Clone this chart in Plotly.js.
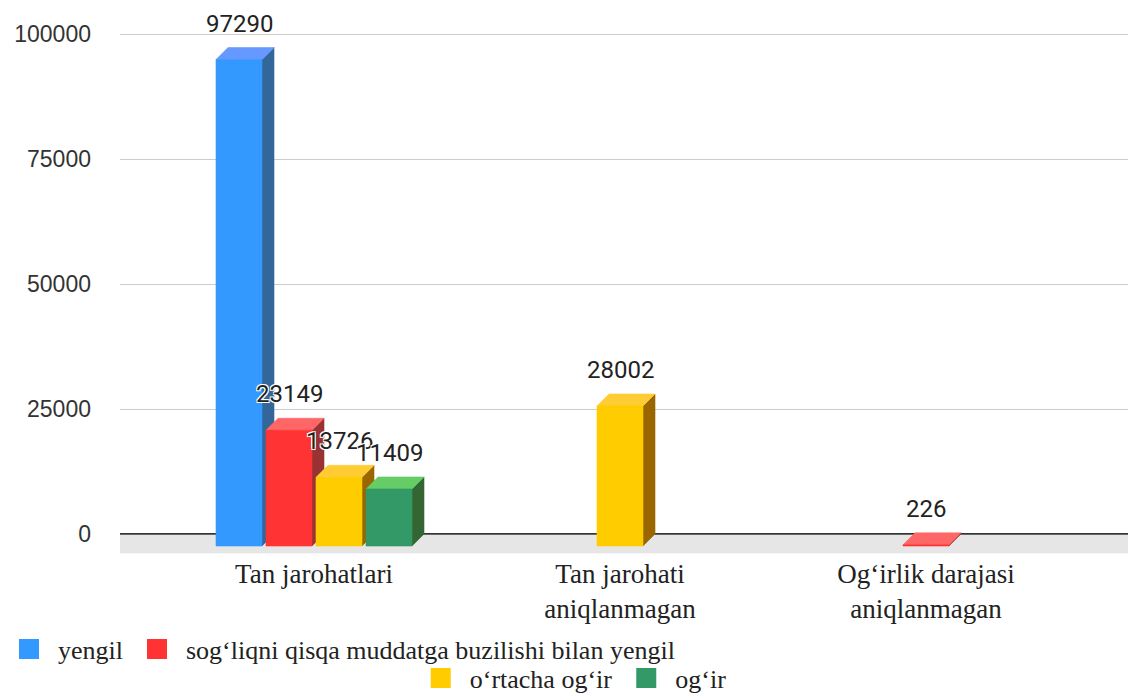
<!DOCTYPE html>
<html><head><meta charset="utf-8">
<script src="https://cdn.plot.ly/plotly-3.0.1.min.js"></script>
<style>html,body{margin:0;padding:0;background:#fff}#chart{width:1128px;height:693px}</style>
</head><body><div id="chart"></div>
<script>
// ---------------- data ----------------
const categories = ['Tan jarohatlari', 'Tan jarohati aniqlanmagan', 'Og‘irlik darajasi aniqlanmagan'];
const categoryTickLabels = ['Tan jarohatlari', 'Tan jarohati<br>aniqlanmagan', 'Og‘irlik darajasi<br>aniqlanmagan'];
const seriesNames = ['yengil', 'sog‘liqni qisqa muddatga buzilishi bilan yengil', 'o‘rtacha og‘ir', 'og‘ir'];
const yengil = [97290, null, null];
const sogliqniQisqa = [23149, null, 226];
const ortachaOgir = [13726, 28002, null];
const ogir = [11409, null, null];
const yTickValues = [0, 25000, 50000, 75000, 100000];

// ---------------- styles ----------------
const seriesValues = [yengil, sogliqniQisqa, ortachaOgir, ogir];
const faceColors = [
  {front: '#3399ff', top: '#6699ff', side: '#336699'},
  {front: '#ff3333', top: '#ff6666', side: '#993333'},
  {front: '#ffcc00', top: '#ffcc33', side: '#996600'},
  {front: '#339966', top: '#66cc66', side: '#336633'}
];
const legendOf = ['legend', 'legend', 'legend2', 'legend2'];

// ---------------- geometry (pixels) ----------------
const W = 1128, H = 693;
const M = {l: 120, r: 0, t: 10, b: 138};
const plotW = W - M.l - M.r, plotH = H - M.t - M.b;
const pxPerCat = 306, firstCatPx = 314;
const zeroPx = 534, unitsPerPx = 200;
const barPx = 46, slotPx = 50, depthPx = 12, floorDepthPx = 19, floorSkewPx = 20;

const xRange = [-(firstCatPx - M.l) / pxPerCat, -(firstCatPx - M.l) / pxPerCat + plotW / pxPerCat];
const yRange = [-(M.t + plotH - zeroPx) * unitsPerPx, (zeroPx - M.t) * unitsPerPx];
const ux = p => p / pxPerCat;
const uy = p => p * unitsPerPx;

const traces = [];
const annotations = [];

function poly(xs, ys, color) {
  traces.push({type: 'scatter', mode: 'lines', x: xs.concat([xs[0]]), y: ys.concat([ys[0]]),
    fill: 'toself', fillcolor: color, line: {color: color, width: 0.6},
    showlegend: false, hoverinfo: 'skip'});
}

// floor
poly([xRange[0], xRange[1] + 1, xRange[1] + 1, xRange[0] - ux(floorSkewPx)],
     [-uy(1), -uy(1), -uy(floorDepthPx), -uy(floorDepthPx)], '#e6e6e6');

// bars
const w = ux(barPx), slot = ux(slotPx), dx = ux(depthPx), dy = uy(depthPx);
categories.forEach((cat, i) => {
  const present = [];
  seriesValues.forEach((vals, s) => { if (vals[i] !== null && vals[i] !== undefined) present.push(s); });
  const n = present.length;
  present.forEach((s, j) => {
    const v = seriesValues[s][i];
    const c = i + (j - (n - 1) / 2) * slot;
    const xl = c - w / 2, xr = c + w / 2;
    const yb = -dy, yt = v - dy;
    const col = faceColors[s];
    poly([xr, xr, xr + dx, xr + dx], [yb, yt, v, 0], col.side);
    poly([xl, xr, xr + dx, xl + dx], [yt, yt, v, v], col.top);
    poly([xl, xr, xr, xl], [yb, yb, yt, yt], col.front);
    annotations.push({x: c, y: v, xref: 'x', yref: 'y', text: String(v), showarrow: false,
      yanchor: 'middle', xanchor: 'center', yshift: 24,
      font: {family: 'Roboto', size: 24, color: '#222',
        shadow: '1px 1px 0 #fff, -1px -1px 0 #fff, 1px -1px 0 #fff, -1px 1px 0 #fff'}});
  });
});

// legend entries
seriesNames.forEach((name, s) => {
  traces.push({type: 'scatter', mode: 'markers', x: [null], y: [null], name: name,
    legend: legendOf[s],
    marker: {symbol: 'square', size: 16, color: faceColors[s].front, line: {color: faceColors[s].front, width: 4}},
    hoverinfo: 'skip'});
});

const legendFont = {family: 'Liberation Serif', size: 26, color: '#222'};
const layout = {
  width: W, height: H,
  margin: {l: M.l, r: M.r, t: M.t, b: M.b, autoexpand: false},
  paper_bgcolor: '#fff', plot_bgcolor: '#fff',
  showlegend: true,
  xaxis: {range: xRange, tickmode: 'array', tickvals: categories.map((c, i) => i), ticktext: categoryTickLabels,
    showgrid: false, zeroline: false, showline: false, ticks: '', fixedrange: true,
    tickfont: {family: 'Liberation Serif', size: 27, color: '#222'}},
  yaxis: {range: yRange, tickmode: 'array', tickvals: yTickValues, ticktext: yTickValues.map(String),
    showgrid: true, gridcolor: '#cccccc', gridwidth: 1, zeroline: true, zerolinecolor: '#333333', zerolinewidth: 2,
    showline: false, ticks: '', ticklabelstandoff: 28, fixedrange: true,
    tickfont: {family: 'Liberation Sans', size: 23, color: '#333'}},
  legend: {xref: 'container', yref: 'container', x: -0.006, y: 0.0635, xanchor: 'left', yanchor: 'middle',
    orientation: 'h', itemwidth: 48, font: legendFont, bgcolor: 'rgba(0,0,0,0)', traceorder: 'normal'},
  legend2: {xref: 'container', yref: 'container', x: 0.365, y: 0.0216, xanchor: 'left', yanchor: 'middle',
    orientation: 'h', itemwidth: 48, font: legendFont, bgcolor: 'rgba(0,0,0,0)', traceorder: 'normal'},
  annotations: annotations,
  hovermode: false
};

Plotly.newPlot('chart', traces, layout, {displayModeBar: false, staticPlot: true});
</script>
</body></html>
